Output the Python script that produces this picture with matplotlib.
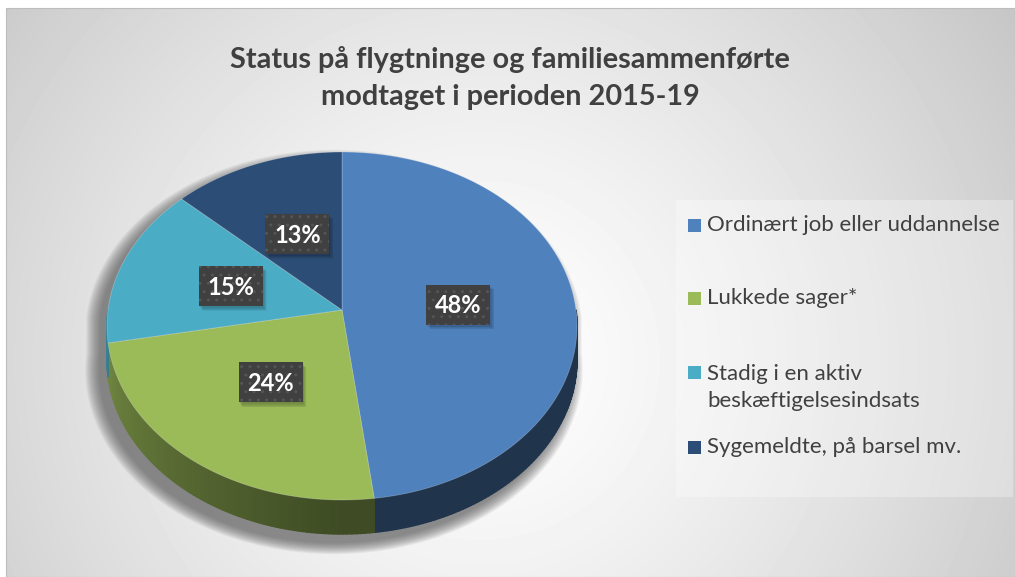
import numpy as np
import matplotlib
matplotlib.use("Agg")
import matplotlib.pyplot as plt
from matplotlib.patches import Polygon, Rectangle
from matplotlib.collections import PolyCollection
from matplotlib.colors import to_rgb

# chart data
categories = ["Ordinært job eller uddannelse", "Lukkede sager*",
              "Stadig i en aktiv\nbeskæftigelsesindsats", "Sygemeldte, på barsel mv."]
shares = [48, 24, 15, 13]
colors = ["#4f81bd", "#9bbb59", "#4bacc6", "#2c4d75"]
title = "Status på flygtninge og familiesammenførte\nmodtaget i perioden 2015-19"

W, H = 1015, 577
FONT = "Lato"
TXT = "#404040"

fig = plt.figure(figsize=(W / 100, H / 100), dpi=100)
fig.patch.set_facecolor("white")
ax = fig.add_axes([0, 0, 1, 1])
ax.set_xlim(0, W)
ax.set_ylim(H, 0)
ax.axis("off")

# radial gray background
x0, y0 = 6, 8
xx, yy = np.meshgrid(np.arange(x0, W), np.arange(y0, H))
r = np.hypot(xx - 480, yy - 360) / 640
bg = 1 - 0.224 * np.clip(r, 0, 1) ** 1.3
ax.imshow(bg, cmap="gray", vmin=0, vmax=1, extent=(x0, W, H, y0), zorder=0, aspect="auto")
ax.add_patch(Rectangle((x0, y0), W - x0, H - y0, fill=False, ec="#bdbdbd", lw=0.8, zorder=1))

# pie geometry (pixel space): tilted disc seen in perspective
cx, cy, a, b, depth = 342, 326, 235, 174, 34
tb_ = np.arctanh(16 / b)            # shifts the disc centre towards the back
ch, sh_ = np.cosh(tb_), np.sinh(tb_)


def proj(phi, f=1.0, dy=0.0):
    t = np.radians(phi)
    u, v = f * np.cos(t), f * np.sin(t)
    w = v * sh_ + ch
    return cx + a * u / w, cy - b * (v * ch + sh_) / w + dy


# soft shadow (down-left)
sil = np.array([proj(t) for t in np.linspace(0, 180, 100)] +
               [proj(t, dy=depth) for t in np.linspace(180, 360, 100)])
for k in range(14):
    s = 1 + 0.0045 * k
    shp = np.column_stack([cx + (sil[:, 0] - cx) * s - 8,
                           cy + depth / 2 + (sil[:, 1] - cy - depth / 2) * s + 9])
    ax.add_patch(Polygon(shp, closed=True, fc="#505050", ec="none", alpha=0.065, zorder=2))

total = float(sum(shares))
bounds = 90 - 360 * np.concatenate([[0], np.cumsum(shares)]) / total

# side walls, shaded by angle (lit from the left)
for i, col in enumerate(colors):
    hi, lo = bounds[i], bounds[i + 1]
    lo2, hi2 = max(lo, -180), min(hi, 0)
    if lo2 >= hi2:
        continue
    base = np.array(to_rgb(col))
    steps = np.linspace(hi2, lo2, max(int(hi2 - lo2), 2) + 1)
    quads, fcs = [], []
    for t1, t2 in zip(steps[:-1], steps[1:]):
        quads.append([proj(t1), proj(t2), proj(t2, dy=depth), proj(t1, dy=depth)])
        tm = 0.5 * (t1 + t2)
        f = 0.40 + 0.36 * np.clip((-90 - tm) / 90, 0, 1)
        fcs.append(np.clip(base * f, 0, 1))
    ax.add_collection(PolyCollection(quads, facecolors=fcs, edgecolors=fcs,
                                     linewidths=1.0, zorder=3))

# top faces
for i, col in enumerate(colors):
    arc = np.linspace(bounds[i], bounds[i + 1], 120)
    poly = [proj(0, f=0)] + [proj(t) for t in arc]
    ax.add_patch(Polygon(poly, closed=True, fc=col, ec=(1, 1, 1, 0.25), lw=0.6, zorder=4))

# data labels in dark dotted boxes
for i, v in enumerate(shares):
    mid = 0.5 * (bounds[i] + bounds[i + 1])
    lx, ly = proj(mid, f=0.5)
    bw, bh = 64, 40
    for k in range(5):
        ax.add_patch(Rectangle((lx - bw / 2 + 1 + k * 0.7, ly - bh / 2 + 2 + k * 0.7), bw, bh,
                               fc="black", ec="none", alpha=0.05, zorder=5))
    ax.add_patch(Rectangle((lx - bw / 2, ly - bh / 2), bw, bh, fc="#404040", ec="#555555",
                           lw=0, hatch="..", zorder=6))
    ax.text(lx, ly + 1, f"{v}%", color="white", fontsize=17, fontweight="bold", family=FONT,
            ha="center", va="center", zorder=7)

# title
ax.text(510, 78, title, ha="center", va="center", fontsize=20.8, fontweight="bold",
        color=TXT, family=FONT, linespacing=1.55, zorder=7)

# legend panel
ax.add_patch(Rectangle((676, 200), 337, 297, fc="white", ec="none", alpha=0.3, zorder=5))
leg_y = [225, 298, 387.5, 447]
for col, lab, y in zip(colors, categories, leg_y):
    first_line = y if "\n" not in lab else y - 15.5
    ax.add_patch(Rectangle((688, first_line - 6.5), 13, 13, fc=col, ec="none", zorder=6))
    ax.text(707, y, lab, ha="left", va="center", fontsize=16, color=TXT, family=FONT,
            linespacing=1.4, zorder=7)

fig.savefig("out.png", dpi=100)
